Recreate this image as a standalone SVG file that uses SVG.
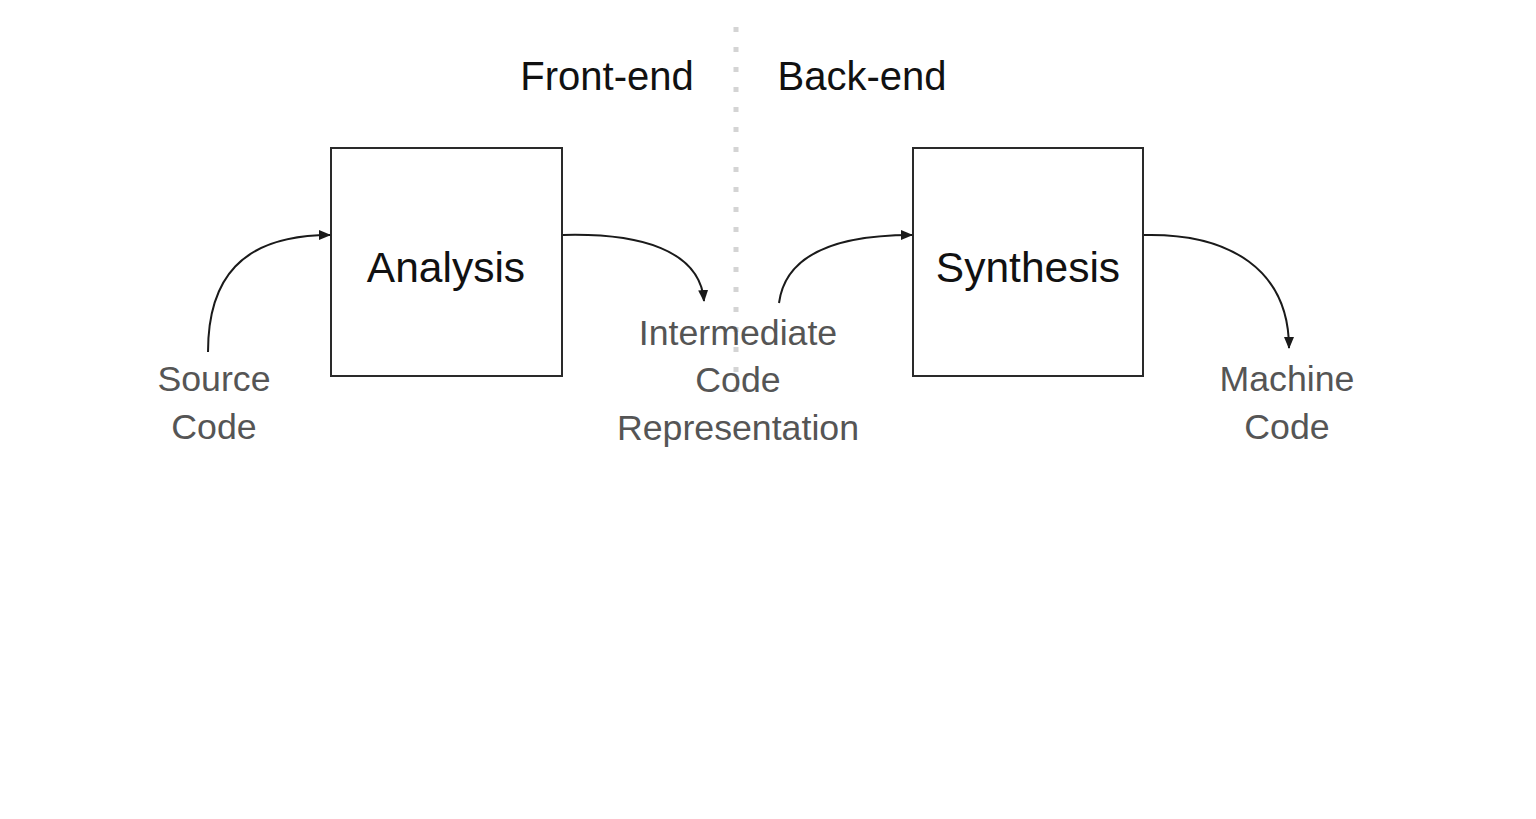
<svg xmlns="http://www.w3.org/2000/svg" width="1536" height="819" viewBox="0 0 1536 819">
<style>
.box{fill:#fff;stroke:#2a2a2a;stroke-width:2}
.conn{fill:none;stroke:#1a1a1a;stroke-width:2}
.title{font-family:"Liberation Sans",Arial,sans-serif;font-size:40px;fill:#111;text-anchor:middle}
.lbl{font-family:"Liberation Sans",Arial,sans-serif;font-size:42.5px;fill:#111;text-anchor:middle}
.sub{font-family:"Liberation Sans",Arial,sans-serif;font-size:35.7px;fill:#555;text-anchor:middle}
.div{stroke:#d4d4d4;stroke-width:5;stroke-dasharray:5 15;fill:none}
</style>
<defs>
<marker id="ah2" viewBox="0 0 12 10" refX="11" refY="5" markerWidth="12" markerHeight="10" markerUnits="userSpaceOnUse" orient="auto">
<path d="M0,0 L12,5 L0,10 Z" fill="#1a1a1a"/>
</marker>
</defs>
<rect width="1536" height="819" fill="#fff"/>
<line class="div" x1="736" y1="27" x2="736" y2="405"/>
<text class="title" x="607" y="90">Front-end</text>
<text class="title" x="862" y="90">Back-end</text>
<g id="analysis">
<rect class="box" x="331" y="148" width="231" height="228"/>
<text class="lbl" x="446" y="282">Analysis</text>
</g>
<g id="synthesis">
<rect class="box" x="913" y="148" width="230" height="228"/>
<text class="lbl" x="1028" y="282">Synthesis</text>
</g>
<g id="source">
<text class="sub" x="214" y="391">Source</text>
<text class="sub" x="214" y="439">Code</text>
</g>
<g id="intermediate">
<text class="sub" x="738" y="345">Intermediate</text>
<text class="sub" x="738" y="392">Code</text>
<text class="sub" x="738" y="440">Representation</text>
</g>
<g id="machine">
<text class="sub" x="1287" y="391">Machine</text>
<text class="sub" x="1287" y="439">Code</text>
</g>
<g id="connectors">
<path class="conn" marker-end="url(#ah2)" d="M208,352 C208,280 240,235 330,235"/>
<path class="conn" marker-end="url(#ah2)" d="M563,235 C640,233 700,250 704,301"/>
<path class="conn" marker-end="url(#ah2)" d="M779,303 C785,258 830,235 912,235"/>
<path class="conn" marker-end="url(#ah2)" d="M1144,235 C1230,233 1289,270 1289,348"/>
</g>
</svg>
